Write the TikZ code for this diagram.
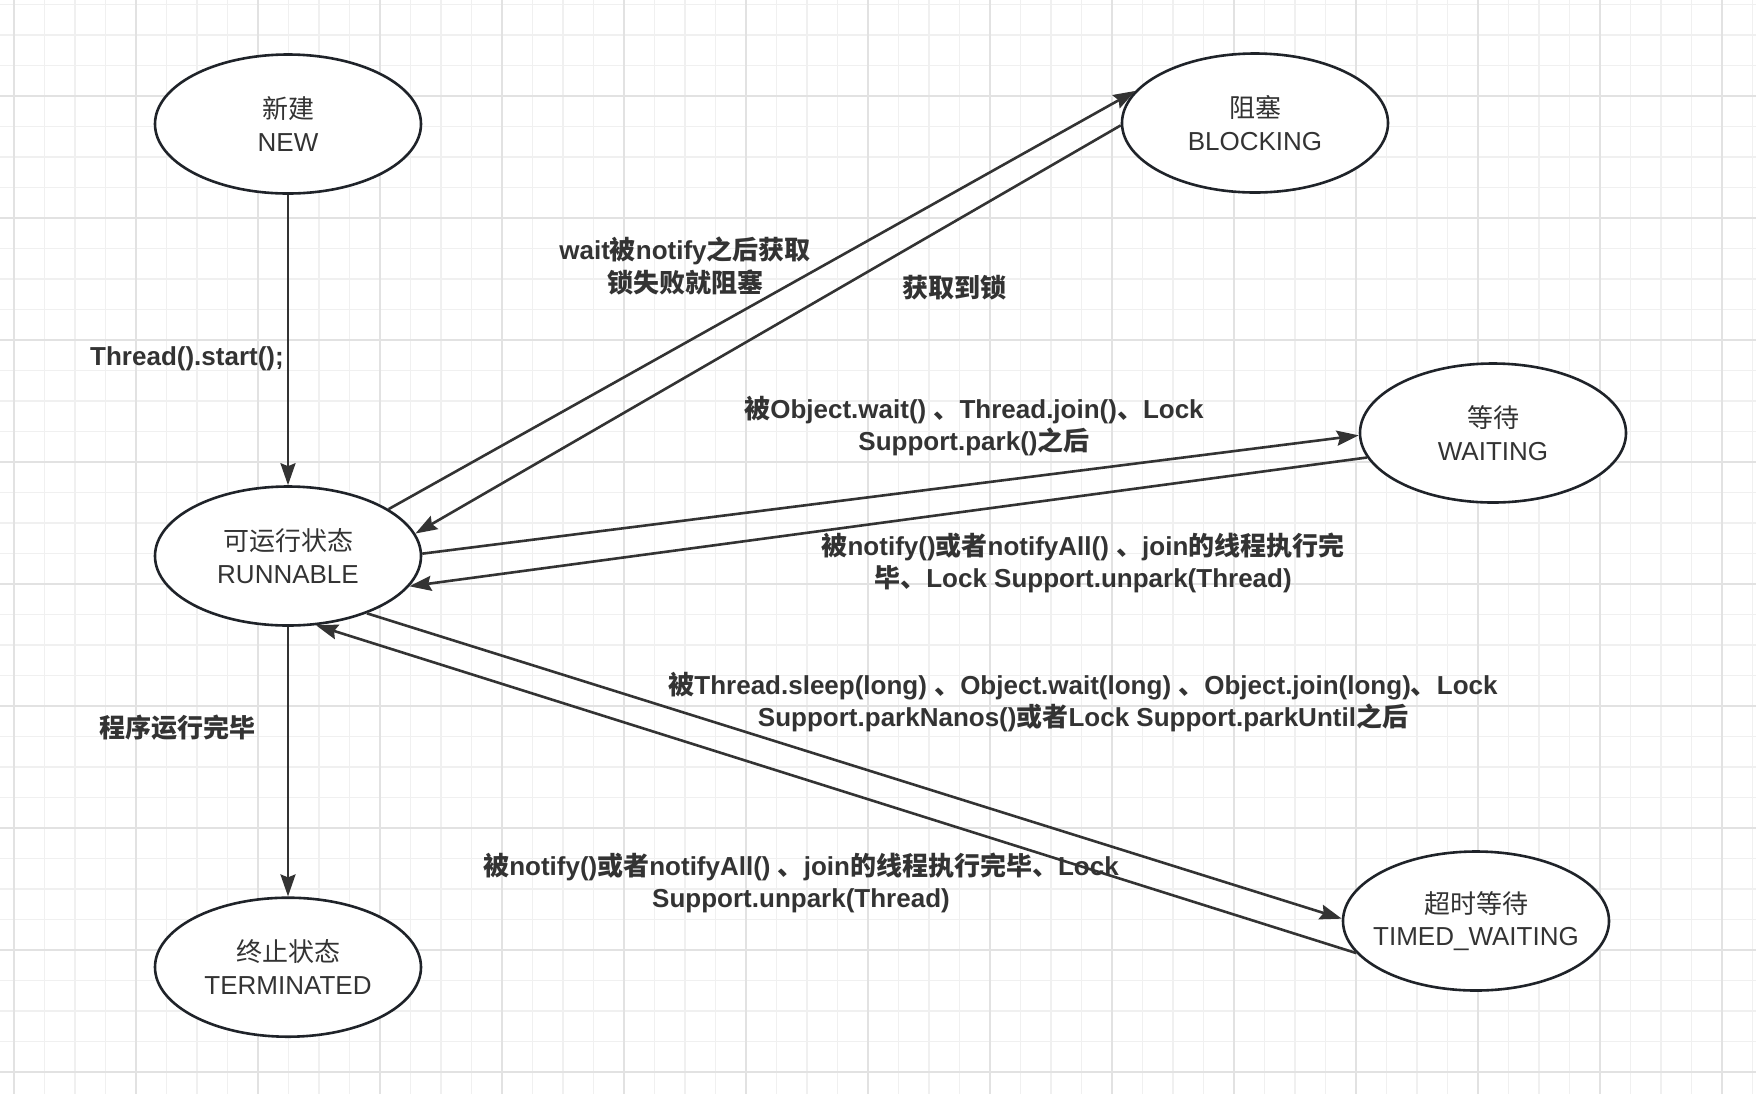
\documentclass[tikz,border=0pt]{standalone}
\usepackage{fontspec}
\setmainfont{Liberation Sans}
\newfontfamily\cjk{Noto Sans CJK SC}
\newcommand{\zh}[1]{{\cjk #1}}
\newcommand{\two}[2]{\makebox[0pt]{#1}\\\makebox[0pt]{#2}}
\usetikzlibrary{arrows.meta,shapes.geometric,positioning}
\definecolor{txt}{HTML}{333333}
\definecolor{ink}{HTML}{1F2329}
\definecolor{gridlo}{HTML}{F0F0F0}
\definecolor{gridhi}{HTML}{E2E2E2}

\begin{document}
\begin{tikzpicture}[x=0.5pt,y=-0.5pt,->,>={Stealth[length=11pt,width=7.5pt,inset=1.5pt]},
  line width=1.3pt,color=txt,
  state/.style={ellipse,draw=ink,fill=white,minimum width=133pt,minimum height=69.5pt,
    inner sep=0pt,align=center,text=txt,font=\fontsize{13}{16.25}\selectfont},
  lbl/.style={align=center,text=txt,font=\fontsize{13}{16.25}\selectfont\bfseries}]
  \tikzstyle{gridline} = [-,line width=0.75pt]

  % paper and grid
  \fill[white] (0,0) rectangle (1756,1094);
  \useasboundingbox (0,0) rectangle (1756,1094);
  \foreach \x in {14,44.5,...,1756} \draw[gridline,gridlo] (\x,0) -- (\x,1094);
  \foreach \y in {4.5,35,...,1094} \draw[gridline,gridlo] (0,\y) -- (1756,\y);
  \foreach \x in {14,136,...,1756} \draw[gridline,gridhi] (\x,0) -- (\x,1094);
  \foreach \y in {96,218,...,1094} \draw[gridline,gridhi] (0,\y) -- (1756,\y);

  \node[state] (RUNNABLE)   at (288,556)  {\two{\zh{可运行状态}}{RUNNABLE}};
  \node[state] (NEW)        [above=145.2pt of RUNNABLE] {\two{\zh{新建}}{NEW}};
  \node[state] (TERMINATED) [below=134.8pt of RUNNABLE] {\two{\zh{终止状态}}{TERMINATED}};
  \node[state] (BLOCKING)   at (1255,123) {\two{\zh{阻塞}}{BLOCKING}};
  \node[state] (WAITING)    at (1493,433) {\two{\zh{等待}}{WAITING}};
  \node[state] (TIMED)      at (1476,921) {\two{\zh{超时等待}}{TIMED\_WAITING}};

  \node[lbl] (START)  at (187,359) {Thread().start();};
  \node[lbl] (TOBLK)  at (685,266) {wait\zh{被}notify\zh{之后获取}\\\zh{锁失败就阻塞}};
  \node[lbl] (GOTLK)  at (954,288) {\zh{获取到锁}};
  \node[lbl] (TOWAIT) at (974,426) {\zh{被}Object.wait() \zh{、}Thread.join()\zh{、}Lock\\Support.park()\zh{之后}};
  \node[lbl] (FRWAIT) at (1083,563) {\zh{被}notify()\zh{或者}notifyAll() \zh{、}join\zh{的线程执行完}\\\zh{毕、}Lock Support.unpark(Thread)};
  \node[lbl] (TOTIME) at (1083,702) {\zh{被}Thread.sleep(long) \zh{、}Object.wait(long) \zh{、}Object.join(long)\zh{、}Lock\\Support.parkNanos()\zh{或者}Lock Support.parkUntil\zh{之后}};
  \node[lbl] (DONE)   at (177,728) {\zh{程序运行完毕}};
  \node[lbl] (FRTIME) at (801,883) {\zh{被}notify()\zh{或者}notifyAll() \zh{、}join\zh{的线程执行完毕、}Lock\\Support.unpark(Thread)};

  \path
    (NEW)          edge (RUNNABLE)
    (RUNNABLE)     edge (TERMINATED)
    (RUNNABLE.25)  edge (BLOCKING.165)
    (BLOCKING.181) edge (RUNNABLE.10)
    (RUNNABLE.1)   edge (WAITING.181)
    (WAITING.191)  edge (RUNNABLE.-14)
    (RUNNABLE.-36) edge (TIMED.179)
    (TIMED.195)    edge (RUNNABLE.-68);

\end{tikzpicture}
\end{document}
